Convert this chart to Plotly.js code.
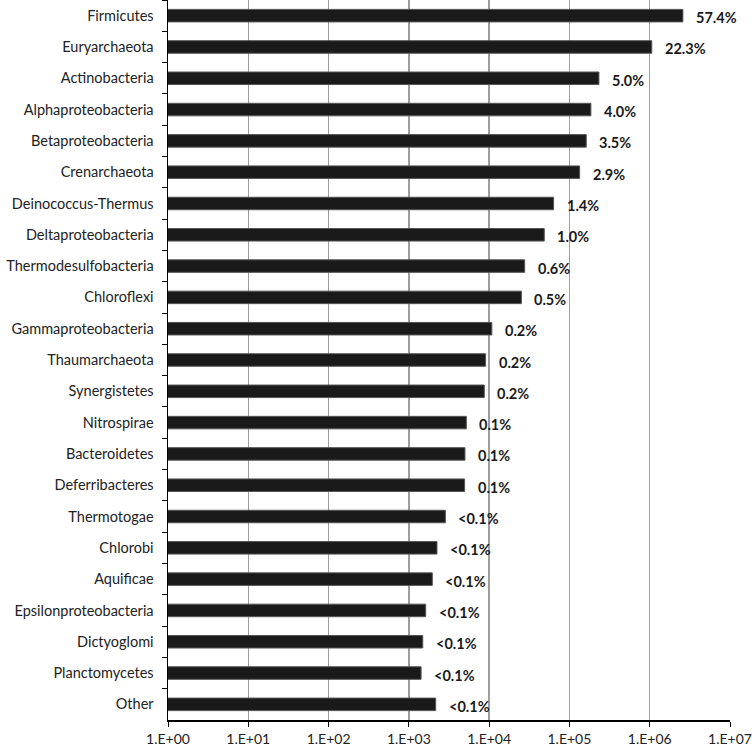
<!DOCTYPE html>
<html>
<head>
<meta charset="utf-8">
<script src="https://cdn.plot.ly/plotly-3.0.1.min.js"></script>
<style>html,body{margin:0;padding:0;background:#fff;}#chart{width:752px;height:748px;}</style>
</head>
<body>
<div id="chart"></div>
<script>
const categories = ["Firmicutes","Euryarchaeota","Actinobacteria","Alphaproteobacteria","Betaproteobacteria","Crenarchaeota","Deinococcus-Thermus","Deltaproteobacteria","Thermodesulfobacteria","Chloroflexi","Gammaproteobacteria","Thaumarchaeota","Synergistetes","Nitrospirae","Bacteroidetes","Deferribacteres","Thermotogae","Chlorobi","Aquificae","Epsilonproteobacteria","Dictyoglomi","Planctomycetes","Other"];
const counts = [2590000,1060000,233000,185000,162000,134000,63500,48600,27700,25200,10800,9040,8700,5200,5000,4950,2850,2240,1960,1620,1490,1420,2160];
const pctLabels = ["57.4%","22.3%","5.0%","4.0%","3.5%","2.9%","1.4%","1.0%","0.6%","0.5%","0.2%","0.2%","0.2%","0.1%","0.1%","0.1%","<0.1%","<0.1%","<0.1%","<0.1%","<0.1%","<0.1%","<0.1%"];
const tickVals = [1,10,100,1000,10000,100000,1000000,10000000];
const tickText = ["1.E+00","1.E+01","1.E+02","1.E+03","1.E+04","1.E+05","1.E+06","1.E+07"];

const trace = {
  type: "bar",
  orientation: "h",
  y: categories,
  x: counts,
  width: 0.4,
  marker: {color: "#1a1a1a", line: {color: "#555", width: 1}},
  hoverinfo: "none"
};

const annotations = categories.map((c, i) => ({
  x: Math.log10(counts[i]),
  y: c,
  xref: "x", yref: "y",
  text: pctLabels[i],
  showarrow: false,
  xanchor: "left",
  yanchor: "middle",
  xshift: 11,
  yshift: -2,
  font: {family: "Lato, sans-serif", size: 14.5, color: "#1a1a1a", weight: "bold"}
}));

const layout = {
  width: 752, height: 748,
  margin: {l: 168, r: 22, t: 0, b: 28},
  paper_bgcolor: "#fff", plot_bgcolor: "#fff",
  showlegend: false,
  font: {family: "Lato, sans-serif", size: 14.5, color: "#222"},
  xaxis: {
    type: "log",
    range: [0, 7],
    tickvals: tickVals,
    ticktext: tickText,
    showgrid: true,
    gridcolor: "#9e9e9e",
    gridwidth: 1.5,
    showline: true,
    linecolor: "#000",
    linewidth: 1.5,
    ticks: "outside",
    ticklen: 5,
    tickcolor: "#000",
    tickfont: {size: 14, color: "#222"},
    ticklabelstandoff: 1,
    ticklabeloverflow: "allow",
    zeroline: false,
    fixedrange: true
  },
  yaxis: {
    type: "category",
    autorange: "reversed",
    showline: true,
    linecolor: "#000",
    linewidth: 1.5,
    ticks: "outside",
    tickson: "boundaries",
    ticklen: 5,
    tickcolor: "#000",
    showgrid: false,
    tickfont: {size: 14.5, color: "#222"},
    ticklabelstandoff: 10,
    fixedrange: true
  },
  annotations: annotations
};

Plotly.newPlot("chart", [trace], layout, {displayModeBar: false, staticPlot: true});
</script>
</body>
</html>
